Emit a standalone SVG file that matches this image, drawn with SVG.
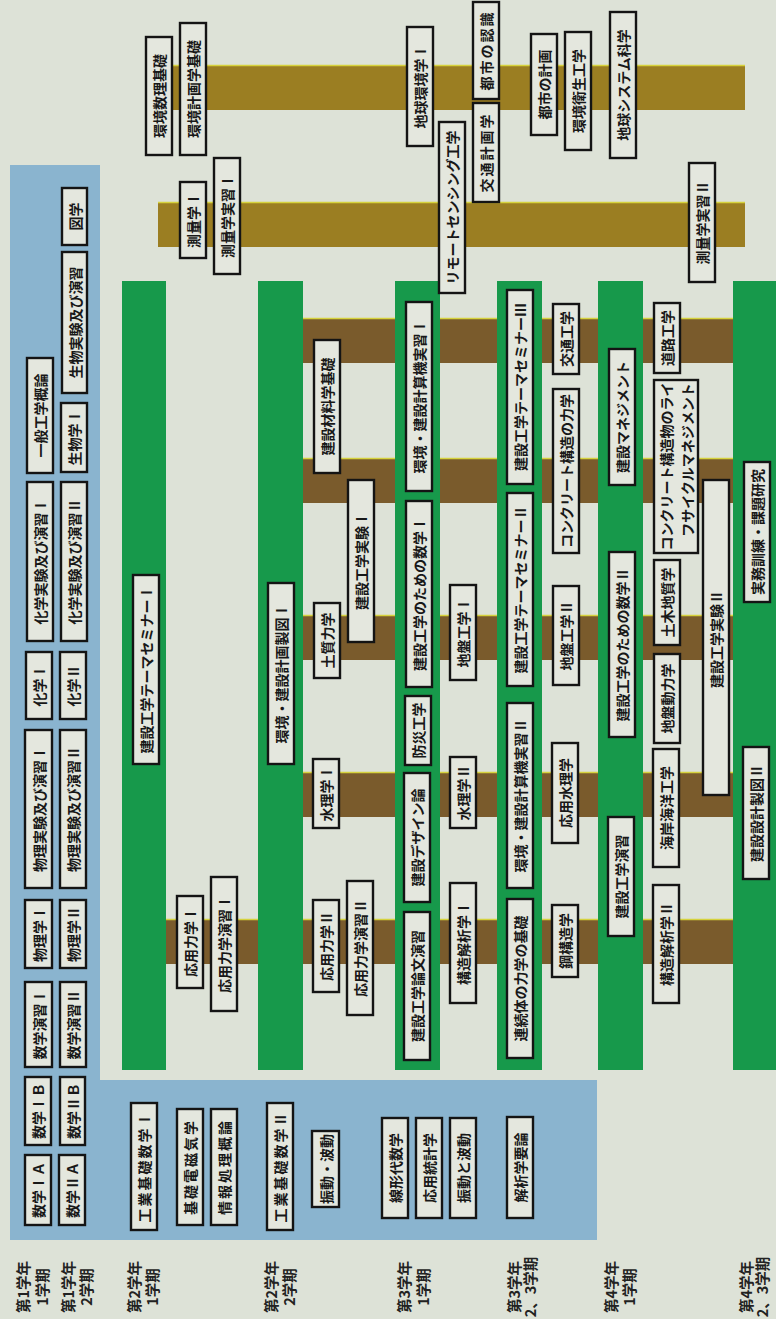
<svg xmlns="http://www.w3.org/2000/svg" width="776" height="1319" viewBox="0 0 776 1319">
<style>
.b{fill:#e4e7de;stroke:#141414;stroke-width:2.4}
.t{font-family:"Noto Sans CJK JP","Noto Sans",sans-serif;font-size:14px;font-weight:700;fill:#181818;text-anchor:middle;dominant-baseline:central}
.l{font-family:"Noto Sans CJK JP","Noto Sans",sans-serif;font-size:14.5px;font-weight:700;fill:#222;text-anchor:middle;dominant-baseline:central}
.gr{fill:#17994b}
.br{fill:#7a5b2c}
.ol{fill:#9b7e22}
.edge{stroke:#d6d23c;stroke-width:1.5}
</style>
<rect x="0" y="0" width="776" height="1319" fill="#dde2d7"/>
<path d="M10 165H100V1080H597V1240H10Z" fill="#8ab4cf"/>
<g id="connectors">
<rect class="ol" x="173" y="65" width="572" height="45"/>
<line class="edge" x1="173" y1="65.5" x2="745" y2="65.5"/>
<rect class="ol" x="158" y="202" width="587" height="45"/>
<line class="edge" x1="158" y1="202.5" x2="745" y2="202.5"/>
<rect class="br" x="303" y="318" width="430" height="45"/>
<rect class="br" x="303" y="458" width="430" height="45"/>
<rect class="br" x="303" y="615" width="430" height="45"/>
<rect class="br" x="303" y="772" width="430" height="45"/>
<rect class="br" x="166" y="919" width="567" height="45"/>
<line class="edge" x1="303" y1="318.5" x2="733" y2="318.5"/>
<line class="edge" x1="303" y1="458.5" x2="733" y2="458.5"/>
<line class="edge" x1="303" y1="615.5" x2="733" y2="615.5"/>
<line class="edge" x1="303" y1="772.5" x2="733" y2="772.5"/>
<line class="edge" x1="166" y1="919.5" x2="733" y2="919.5"/>
<rect class="gr" x="122" y="281" width="44" height="789"/>
<rect class="gr" x="258" y="281" width="45" height="789"/>
<rect class="gr" x="395" y="281" width="45" height="789"/>
<rect class="gr" x="497" y="281" width="45" height="789"/>
<rect class="gr" x="598" y="281" width="45" height="789"/>
<rect class="gr" x="733" y="281" width="43" height="789"/>
</g>
<g id="n1"><rect class="b" x="27" y="358" width="26" height="115"/><text class="t" transform="translate(40 415.5) rotate(-90)">一般工学概論</text></g>
<g id="n2"><rect class="b" x="27" y="482" width="26" height="159"/><text class="t" transform="translate(40 561.5) rotate(-90)">化学実験及び演習Ⅰ</text></g>
<g id="n3"><rect class="b" x="26" y="652" width="26" height="67"/><text class="t" transform="translate(39 685.5) rotate(-90)">化学Ⅰ</text></g>
<g id="n4"><rect class="b" x="25" y="730" width="27" height="158"/><text class="t" transform="translate(38.5 809) rotate(-90)">物理実験及び演習Ⅰ</text></g>
<g id="n5"><rect class="b" x="25" y="900" width="27" height="68"/><text class="t" transform="translate(38.5 934) rotate(-90)">物理学Ⅰ</text></g>
<g id="n6"><rect class="b" x="25" y="982" width="27" height="85"/><text class="t" transform="translate(38.5 1024.5) rotate(-90)">数学演習Ⅰ</text></g>
<g id="n7"><rect class="b" x="25" y="1077" width="26" height="68"/><text class="t" transform="translate(38 1111) rotate(-90)">数学ⅠＢ</text></g>
<g id="n8"><rect class="b" x="25" y="1155" width="26" height="70"/><text class="t" transform="translate(38 1190) rotate(-90)">数学ⅠＡ</text></g>
<g id="n9"><rect class="b" x="62" y="188" width="25" height="57"/><text class="t" transform="translate(74.5 216.5) rotate(-90)">図学</text></g>
<g id="n10"><rect class="b" x="62" y="252" width="25" height="141"/><text class="t" transform="translate(74.5 322.5) rotate(-90)">生物実験及び演習</text></g>
<g id="n11"><rect class="b" x="61" y="403" width="26" height="69"/><text class="t" transform="translate(74 437.5) rotate(-90)">生物学Ⅰ</text></g>
<g id="n12"><rect class="b" x="61" y="482" width="26" height="159"/><text class="t" transform="translate(74 561.5) rotate(-90)">化学実験及び演習Ⅱ</text></g>
<g id="n13"><rect class="b" x="60" y="652" width="26" height="67"/><text class="t" transform="translate(73 685.5) rotate(-90)">化学Ⅱ</text></g>
<g id="n14"><rect class="b" x="60" y="730" width="26" height="158"/><text class="t" transform="translate(73 809) rotate(-90)">物理実験及び演習Ⅱ</text></g>
<g id="n15"><rect class="b" x="60" y="900" width="26" height="68"/><text class="t" transform="translate(73 934) rotate(-90)">物理学Ⅱ</text></g>
<g id="n16"><rect class="b" x="60" y="982" width="26" height="85"/><text class="t" transform="translate(73 1024.5) rotate(-90)">数学演習Ⅱ</text></g>
<g id="n17"><rect class="b" x="60" y="1077" width="25" height="68"/><text class="t" transform="translate(72.5 1111) rotate(-90)">数学ⅡＢ</text></g>
<g id="n18"><rect class="b" x="59" y="1155" width="26" height="70"/><text class="t" transform="translate(72 1190) rotate(-90)">数学ⅡＡ</text></g>
<g id="n19"><rect class="b" x="131" y="1103" width="26" height="127"/><text class="t" transform="translate(144 1166.5) rotate(-90)" letter-spacing="2">工業基礎数学Ⅰ</text></g>
<g id="n20"><rect class="b" x="177" y="1109" width="26" height="116"/><text class="t" transform="translate(190 1167) rotate(-90)" letter-spacing="2">基礎電磁気学</text></g>
<g id="n21"><rect class="b" x="211" y="1109" width="26" height="116"/><text class="t" transform="translate(224 1167) rotate(-90)" letter-spacing="2">情報処理概論</text></g>
<g id="n22"><rect class="b" x="267" y="1103" width="26" height="127"/><text class="t" transform="translate(280 1166.5) rotate(-90)" letter-spacing="2">工業基礎数学Ⅱ</text></g>
<g id="n23"><rect class="b" x="312" y="1131" width="27" height="76"/><text class="t" transform="translate(325.5 1169) rotate(-90)">振動・波動</text></g>
<g id="n24"><rect class="b" x="382" y="1118" width="26" height="100"/><text class="t" transform="translate(395 1168) rotate(-90)">線形代数学</text></g>
<g id="n25"><rect class="b" x="416" y="1118" width="26" height="100"/><text class="t" transform="translate(429 1168) rotate(-90)">応用統計学</text></g>
<g id="n26"><rect class="b" x="450" y="1118" width="26" height="100"/><text class="t" transform="translate(463 1168) rotate(-90)">振動と波動</text></g>
<g id="n27"><rect class="b" x="507" y="1117" width="26" height="101"/><text class="t" transform="translate(520 1167.5) rotate(-90)">解析学要論</text></g>
<g id="n28"><rect class="b" x="133" y="575" width="26" height="189"/><text class="t" transform="translate(146 669.5) rotate(-90)">建設工学テーマセミナーⅠ</text></g>
<g id="n29"><rect class="b" x="177" y="896" width="26" height="92"/><text class="t" transform="translate(190 942) rotate(-90)">応用力学Ⅰ</text></g>
<g id="n30"><rect class="b" x="211" y="877" width="26" height="134"/><text class="t" transform="translate(224 944) rotate(-90)">応用力学演習Ⅰ</text></g>
<g id="n31"><rect class="b" x="268" y="583" width="26" height="181"/><text class="t" transform="translate(281 673.5) rotate(-90)">環境・建設計画製図Ⅰ</text></g>
<g id="n32"><rect class="b" x="314" y="340" width="26" height="133"/><text class="t" transform="translate(327 406.5) rotate(-90)">建設材料学基礎</text></g>
<g id="n33"><rect class="b" x="348" y="480" width="26" height="162"/><text class="t" transform="translate(361 561) rotate(-90)">建設工学実験Ⅰ</text></g>
<g id="n34"><rect class="b" x="314" y="603" width="26" height="75"/><text class="t" transform="translate(327 640.5) rotate(-90)">土質力学</text></g>
<g id="n35"><rect class="b" x="313" y="759" width="26" height="69"/><text class="t" transform="translate(326 793.5) rotate(-90)">水理学Ⅰ</text></g>
<g id="n36"><rect class="b" x="313" y="900" width="26" height="92"/><text class="t" transform="translate(326 946) rotate(-90)">応用力学Ⅱ</text></g>
<g id="n37"><rect class="b" x="347" y="881" width="26" height="134"/><text class="t" transform="translate(360 948) rotate(-90)">応用力学演習Ⅱ</text></g>
<g id="n38"><rect class="b" x="406" y="302" width="26" height="189"/><text class="t" transform="translate(419 396.5) rotate(-90)">環境・建設計算機実習Ⅰ</text></g>
<g id="n39"><rect class="b" x="406" y="501" width="26" height="186"/><text class="t" transform="translate(419 594) rotate(-90)">建設工学のための数学Ⅰ</text></g>
<g id="n40"><rect class="b" x="405" y="696" width="26" height="69"/><text class="t" transform="translate(418 730.5) rotate(-90)">防災工学</text></g>
<g id="n41"><rect class="b" x="404" y="773" width="26" height="129"/><text class="t" transform="translate(417 837.5) rotate(-90)">建設デザイン論</text></g>
<g id="n42"><rect class="b" x="404" y="912" width="26" height="148"/><text class="t" transform="translate(417 986) rotate(-90)">建設工学論文演習</text></g>
<g id="n43"><rect class="b" x="450" y="585" width="26" height="95"/><text class="t" transform="translate(463 632.5) rotate(-90)">地盤工学Ⅰ</text></g>
<g id="n44"><rect class="b" x="450" y="757" width="26" height="71"/><text class="t" transform="translate(463 792.5) rotate(-90)">水理学Ⅱ</text></g>
<g id="n45"><rect class="b" x="450" y="883" width="26" height="120"/><text class="t" transform="translate(463 943) rotate(-90)">構造解析学Ⅰ</text></g>
<g id="n46"><rect class="b" x="507" y="290" width="26" height="194"/><text class="t" transform="translate(520 387) rotate(-90)">建設工学テーマセミナーⅢ</text></g>
<g id="n47"><rect class="b" x="507" y="493" width="26" height="193"/><text class="t" transform="translate(520 589.5) rotate(-90)">建設工学テーマセミナーⅡ</text></g>
<g id="n48"><rect class="b" x="507" y="703" width="26" height="185"/><text class="t" transform="translate(520 795.5) rotate(-90)">環境・建設計算機実習Ⅱ</text></g>
<g id="n49"><rect class="b" x="507" y="899" width="26" height="159"/><text class="t" transform="translate(520 978.5) rotate(-90)">連続体の力学の基礎</text></g>
<g id="n50"><rect class="b" x="553" y="304" width="26" height="70"/><text class="t" transform="translate(566 339) rotate(-90)">交通工学</text></g>
<g id="n51"><rect class="b" x="553" y="389" width="26" height="164"/><text class="t" transform="translate(566 471) rotate(-90)">コンクリート構造の力学</text></g>
<g id="n52"><rect class="b" x="553" y="586" width="26" height="99"/><text class="t" transform="translate(566 635.5) rotate(-90)">地盤工学Ⅱ</text></g>
<g id="n53"><rect class="b" x="552" y="743" width="26" height="100"/><text class="t" transform="translate(565 793) rotate(-90)">応用水理学</text></g>
<g id="n54"><rect class="b" x="552" y="905" width="26" height="72"/><text class="t" transform="translate(565 941) rotate(-90)">鋼構造学</text></g>
<g id="n55"><rect class="b" x="609" y="349" width="26" height="136"/><text class="t" transform="translate(622 417) rotate(-90)">建設マネジメント</text></g>
<g id="n56"><rect class="b" x="609" y="552" width="26" height="185"/><text class="t" transform="translate(622 644.5) rotate(-90)">建設工学のための数学Ⅱ</text></g>
<g id="n57"><rect class="b" x="608" y="817" width="26" height="119"/><text class="t" transform="translate(621 876.5) rotate(-90)">建設工学演習</text></g>
<g id="n58"><rect class="b" x="654" y="303" width="26" height="70"/><text class="t" transform="translate(667 338) rotate(-90)">道路工学</text></g>
<g id="n59"><rect class="b" x="654" y="380" width="44" height="173"/><text class="t" transform="translate(666 466.5) rotate(-90)">コンクリート構造物のライ</text><text class="t" transform="translate(686.5 460) rotate(-90)">フサイクルマネジメント</text></g>
<g id="n60"><rect class="b" x="703" y="480" width="26" height="315"/><text class="t" transform="translate(716 639) rotate(-90)">建設工学実験Ⅱ</text></g>
<g id="n61"><rect class="b" x="654" y="560" width="26" height="85"/><text class="t" transform="translate(667 602.5) rotate(-90)">土木地質学</text></g>
<g id="n62"><rect class="b" x="654" y="654" width="26" height="89"/><text class="t" transform="translate(667 698.5) rotate(-90)">地盤動力学</text></g>
<g id="n63"><rect class="b" x="653" y="749" width="26" height="118"/><text class="t" transform="translate(666 808) rotate(-90)">海岸海洋工学</text></g>
<g id="n64"><rect class="b" x="653" y="885" width="26" height="118"/><text class="t" transform="translate(666 944) rotate(-90)">構造解析学Ⅱ</text></g>
<g id="n65"><rect class="b" x="744" y="462" width="26" height="140"/><text class="t" transform="translate(757 532) rotate(-90)">実務訓練・課題研究</text></g>
<g id="n66"><rect class="b" x="743" y="747" width="26" height="132"/><text class="t" transform="translate(756 813) rotate(-90)">建設設計製図Ⅱ</text></g>
<g id="n67"><rect class="b" x="146" y="37" width="26" height="118"/><text class="t" transform="translate(159 96) rotate(-90)">環境数理基礎</text></g>
<g id="n68"><rect class="b" x="180" y="23" width="26" height="132"/><text class="t" transform="translate(193 89) rotate(-90)">環境計画学基礎</text></g>
<g id="n69"><rect class="b" x="180" y="182" width="26" height="76"/><text class="t" transform="translate(193 220) rotate(-90)">測量学Ⅰ</text></g>
<g id="n70"><rect class="b" x="214" y="158" width="26" height="116"/><text class="t" transform="translate(227 216) rotate(-90)">測量学実習Ⅰ</text></g>
<g id="n71"><rect class="b" x="407" y="27" width="26" height="119"/><text class="t" transform="translate(420 86.5) rotate(-90)">地球環境学Ⅰ</text></g>
<g id="n72"><rect class="b" x="473" y="2" width="26" height="97"/><text class="t" transform="translate(486 50.5) rotate(-90)" letter-spacing="2">都市の認識</text></g>
<g id="n73"><rect class="b" x="473" y="103" width="26" height="99"/><text class="t" transform="translate(486 152.5) rotate(-90)" letter-spacing="2">交通計画学</text></g>
<g id="n74"><rect class="b" x="439" y="122" width="26" height="171"/><text class="t" transform="translate(452 207.5) rotate(-90)">リモートセンシング工学</text></g>
<g id="n75"><rect class="b" x="531" y="34" width="26" height="101"/><text class="t" transform="translate(544 84.5) rotate(-90)">都市の計画</text></g>
<g id="n76"><rect class="b" x="565" y="32" width="26" height="118"/><text class="t" transform="translate(578 91) rotate(-90)">環境衛生工学</text></g>
<g id="n77"><rect class="b" x="610" y="12" width="26" height="146"/><text class="t" transform="translate(623 85) rotate(-90)">地球システム科学</text></g>
<g id="n78"><rect class="b" x="689" y="163" width="26" height="119"/><text class="t" transform="translate(702 222.5) rotate(-90)">測量学実習Ⅱ</text></g>
<g id="labels">
<text class="l" transform="translate(22 1287) rotate(-90)">第1学年</text>
<text class="l" transform="translate(41 1287) rotate(-90)">1学期</text>
<text class="l" transform="translate(67 1287) rotate(-90)">第1学年</text>
<text class="l" transform="translate(85 1287) rotate(-90)">2学期</text>
<text class="l" transform="translate(133 1287) rotate(-90)">第2学年</text>
<text class="l" transform="translate(151 1287) rotate(-90)">1学期</text>
<text class="l" transform="translate(270 1287) rotate(-90)">第2学年</text>
<text class="l" transform="translate(288 1287) rotate(-90)">2学期</text>
<text class="l" transform="translate(403 1287) rotate(-90)">第3学年</text>
<text class="l" transform="translate(422 1287) rotate(-90)">1学期</text>
<text class="l" transform="translate(513 1287) rotate(-90)">第3学年</text>
<text class="l" transform="translate(529 1287) rotate(-90)">2、3学期</text>
<text class="l" transform="translate(610 1287) rotate(-90)">第4学年</text>
<text class="l" transform="translate(628 1287) rotate(-90)">1学期</text>
<text class="l" transform="translate(745 1287) rotate(-90)">第4学年</text>
<text class="l" transform="translate(761 1287) rotate(-90)">2、3学期</text>
</g>
</svg>
